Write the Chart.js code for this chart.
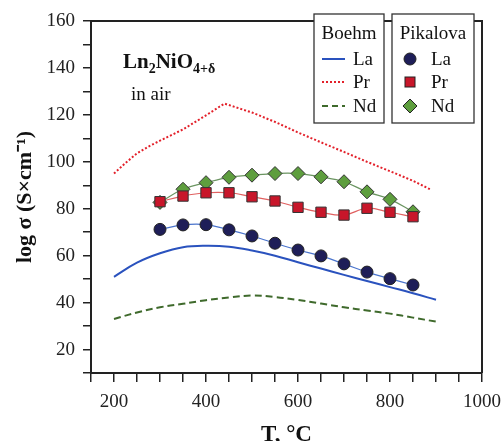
<!DOCTYPE html>
<html>
<head>
<meta charset="utf-8">
<script src="https://cdn.jsdelivr.net/npm/chart.js@4.4.0/dist/chart.umd.min.js"></script>
<style>
  body { margin: 0; background: #fff; }
  #wrap { width: 503px; height: 441px; }
</style>
</head>
<body>
<div id="wrap"><canvas id="myChart"></canvas></div>
<script>
"use strict";

// Boehm (lines)
const boehmT = [200, 250, 300, 350, 400, 450, 500, 550, 600, 650, 700, 750, 800, 850, 900];
const boehmLa = [51, 57, 61, 63.6, 64.2, 63.8, 62.2, 60, 57.2, 54.5, 51.8, 49.2, 46.6, 44, 41.2];
const boehmNd = [33, 35.8, 38, 39.5, 41, 42.2, 43, 42.4, 41.1, 39.6, 38, 36.6, 35.3, 33.6, 31.9];
const boehmPrT = [200, 225, 250, 275, 300, 350, 400, 440, 500, 550, 600, 650, 700, 750, 800, 850, 890];
const boehmPr = [95, 99.5, 103.6, 106.5, 109, 113.8, 119.8, 124.8, 121, 117, 112.5, 108.3, 104.2, 100, 96, 91.9, 88];

// Pikalova (points)
const pikT = [300, 350, 400, 450, 500, 550, 600, 650, 700, 750, 800, 850];
const pikLa = [71.2, 73.1, 73.2, 71, 68.4, 65.3, 62.4, 59.9, 56.5, 53, 50.2, 47.5];
const pikPr = [83, 85.4, 86.8, 86.8, 85.1, 83.3, 80.6, 78.5, 77.3, 80.2, 78.5, 76.6];
const pikNd = [82.7, 88.3, 91.1, 93.4, 94.3, 95, 95, 93.6, 91.5, 87.2, 84, 78.7];

const SERIF = "'Liberation Serif', 'Times New Roman', serif";
const AXIS = '#222';

function toXY(xs, ys) {
    return xs.map((x, i) => ({ x: x, y: ys[i] }));
}

/**
 * Draws the plot frame, formula text and the two legend boxes
 */
const extrasPlugin = {
    id: 'extras',
    afterDraw(chart) {
        const ctx = chart.ctx;
        const a = chart.chartArea;
        ctx.save();
        // top and right frame
        ctx.strokeStyle = AXIS;
        ctx.lineWidth = 2;
        ctx.beginPath();
        ctx.moveTo(a.left, a.top);
        ctx.lineTo(a.right, a.top);
        ctx.lineTo(a.right, a.bottom);
        ctx.stroke();

        // formula
        ctx.fillStyle = '#111';
        ctx.textBaseline = 'alphabetic';
        let x = 123;
        const base = 68;
        const parts = [
            ['Ln', 21, 0], ['2', 14, 5], ['NiO', 21, 0], ['4+δ', 14, 5]
        ];
        parts.forEach(p => {
            ctx.font = 'bold ' + p[1] + 'px ' + SERIF;
            ctx.fillText(p[0], x, base + p[2]);
            x += ctx.measureText(p[0]).width;
        });
        ctx.font = '19px ' + SERIF;
        ctx.fillText('in air', 131, 100);

        // legend boxes
        drawBox(ctx, 314, 14, 70, 109);
        drawBox(ctx, 392, 14, 82, 109);
        ctx.fillStyle = '#111';
        ctx.font = '19px ' + SERIF;
        ctx.textBaseline = 'middle';
        ctx.textAlign = 'center';
        ctx.fillText('Boehm', 349, 34);
        ctx.fillText('Pikalova', 433, 34);
        ctx.textAlign = 'left';
        const rows = [59, 82, 106];
        const names = ['La', 'Pr', 'Nd'];
        const lineStyles = [
            { c: '#2a52be', d: [] },
            { c: '#e3202a', d: [2, 2] },
            { c: '#3f6a2c', d: [6, 4] }
        ];
        rows.forEach((ry, i) => {
            ctx.strokeStyle = lineStyles[i].c;
            ctx.lineWidth = 2;
            ctx.setLineDash(lineStyles[i].d);
            ctx.beginPath();
            ctx.moveTo(322, ry);
            ctx.lineTo(345, ry);
            ctx.stroke();
            ctx.setLineDash([]);
            ctx.fillStyle = '#111';
            ctx.fillText(names[i], 353, ry + 1);
            ctx.fillText(names[i], 431, ry + 1);
        });
        ctx.lineWidth = 1;
        ctx.strokeStyle = '#222';
        // circle
        ctx.fillStyle = '#1e1e58';
        ctx.beginPath();
        ctx.arc(410, rows[0], 6, 0, Math.PI * 2);
        ctx.fill();
        ctx.stroke();
        // square
        ctx.fillStyle = '#c8162a';
        ctx.fillRect(405, rows[1] - 5, 10, 10);
        ctx.strokeRect(405, rows[1] - 5, 10, 10);
        // diamond
        ctx.fillStyle = '#5e9e3e';
        ctx.beginPath();
        ctx.moveTo(410, rows[2] - 7);
        ctx.lineTo(417, rows[2]);
        ctx.lineTo(410, rows[2] + 7);
        ctx.lineTo(403, rows[2]);
        ctx.closePath();
        ctx.fill();
        ctx.stroke();
        ctx.restore();
    }
};

function drawBox(ctx, x, y, w, h) {
    ctx.fillStyle = '#fff';
    ctx.fillRect(x, y, w, h);
    ctx.strokeStyle = '#333';
    ctx.lineWidth = 1.3;
    ctx.strokeRect(x, y, w, h);
}

const ctx = document.getElementById('myChart');
new Chart(ctx, {
    type: 'line',
    data: {
        datasets: [
            {
                label: 'Pikalova La',
                data: toXY(pikT, pikLa),
                borderColor: '#4a74cc',
                borderWidth: 1.2,
                tension: 0.4,
                pointStyle: 'circle',
                pointRadius: 6,
                pointBackgroundColor: '#1e1e58',
                pointBorderColor: '#222',
                pointBorderWidth: 1
            },
            {
                label: 'Pikalova Pr',
                data: toXY(pikT, pikPr),
                borderColor: '#e06060',
                borderWidth: 1.2,
                tension: 0.4,
                pointStyle: 'rect',
                pointRadius: 7.3,
                pointBackgroundColor: '#c8162a',
                pointBorderColor: '#333',
                pointBorderWidth: 1
            },
            {
                label: 'Pikalova Nd',
                data: toXY(pikT, pikNd),
                borderColor: '#6a9460',
                borderWidth: 1.2,
                tension: 0.4,
                pointStyle: 'rectRot',
                pointRadius: 7,
                pointBackgroundColor: '#5e9e3e',
                pointBorderColor: '#333',
                pointBorderWidth: 1
            },
            {
                label: 'Boehm La',
                data: toXY(boehmT, boehmLa),
                borderColor: '#2a52be',
                borderWidth: 2,
                tension: 0.4,
                pointRadius: 0
            },
            {
                label: 'Boehm Pr',
                data: toXY(boehmPrT, boehmPr),
                borderColor: '#e3202a',
                borderWidth: 2,
                borderDash: [2, 2],
                tension: 0,
                pointRadius: 0
            },
            {
                label: 'Boehm Nd',
                data: toXY(boehmT, boehmNd),
                borderColor: '#3f6a2c',
                borderWidth: 2,
                borderDash: [7, 4],
                tension: 0.4,
                pointRadius: 0
            }
        ]
    },
    options: {
        responsive: true,
        maintainAspectRatio: false,
        animation: false,
        layout: { padding: { left: 0, right: 21, top: 21, bottom: 0 } },
        plugins: {
            legend: { display: false },
            tooltip: { enabled: false }
        },
        scales: {
            x: {
                type: 'linear',
                min: 150,
                max: 1000,
                afterFit: s => { s.height = 68; s.paddingRight = 0; s.paddingLeft = 0; },
                ticks: {
                    stepSize: 50,
                    autoSkip: false,
                    maxRotation: 0,
                    padding: 9,
                    color: '#222',
                    font: { family: SERIF, size: 19 },
                    callback: v => (v % 200 === 0 ? v : '')
                },
                grid: { drawOnChartArea: false, tickLength: 9, color: AXIS, lineWidth: 1.5 },
                border: { color: AXIS, width: 2 },
                title: {
                    display: true,
                    text: 'T, °C',
                    color: '#111',
                    font: { family: SERIF, size: 23, weight: 'bold' },
                    padding: { top: 0, bottom: -8 }
                }
            },
            y: {
                min: 10,
                max: 160,
                afterFit: s => { s.width = 91; s.paddingTop = 0; s.paddingBottom = 0; },
                ticks: {
                    stepSize: 10,
                    autoSkip: false,
                    padding: 8,
                    color: '#222',
                    font: { family: SERIF, size: 19 },
                    callback: v => (v % 20 === 0 && v >= 20 ? v : '')
                },
                grid: { drawOnChartArea: false, tickLength: 8, color: AXIS, lineWidth: 1.5 },
                border: { color: AXIS, width: 2 },
                title: {
                    display: true,
                    text: 'log σ (S×cm⁻¹)',
                    color: '#111',
                    font: { family: SERIF, size: 22, weight: 'bold' },
                    padding: { top: 12, bottom: 0 }
                }
            }
        }
    },
    plugins: [extrasPlugin]
});
</script>
</body>
</html>
